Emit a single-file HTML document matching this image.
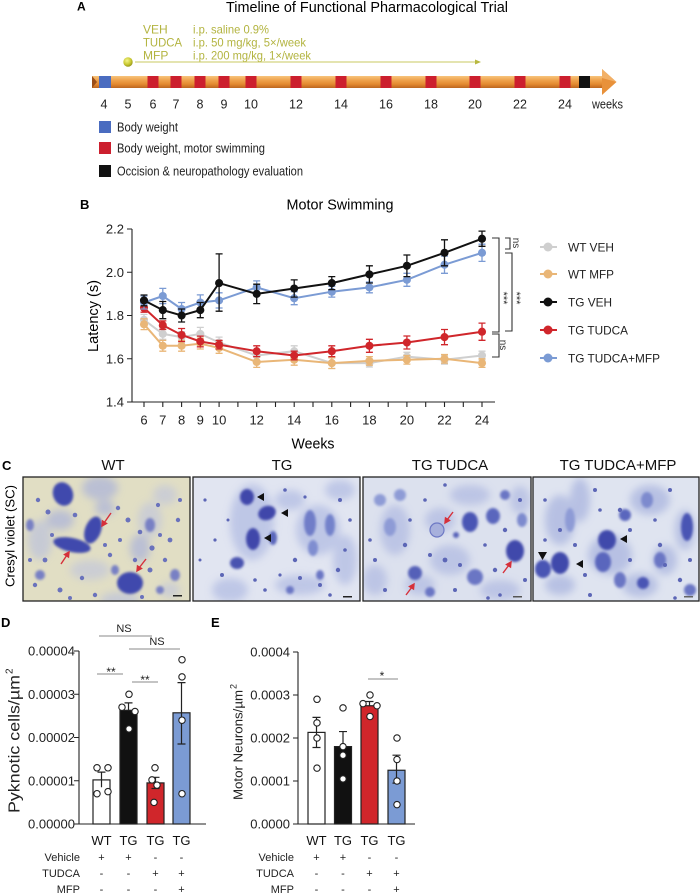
<!DOCTYPE html>
<html><head><meta charset="utf-8"><style>
html,body{margin:0;padding:0;background:#fff;}
svg{display:block;font-family:"Liberation Sans",Arial,sans-serif;}
</style></head><body>
<svg width="700" height="894" viewBox="0 0 700 894" xmlns="http://www.w3.org/2000/svg">
<defs>
<linearGradient id="bar" x1="0" y1="0" x2="0" y2="1">
<stop offset="0" stop-color="#f7c47c"/><stop offset="0.35" stop-color="#efa24c"/><stop offset="0.7" stop-color="#e2882f"/><stop offset="1" stop-color="#bb6520"/></linearGradient>
<radialGradient id="ball" cx="0.4" cy="0.35" r="0.7"><stop offset="0" stop-color="#f4f48a"/><stop offset="0.6" stop-color="#c8c830"/><stop offset="1" stop-color="#8e8e18"/></radialGradient>
<marker id="mg" viewBox="-5 -5 10 10" markerWidth="9" markerHeight="9" markerUnits="userSpaceOnUse"><circle r="4.5" fill="#cfcfcf"/></marker>
<marker id="mt" viewBox="-5 -5 10 10" markerWidth="9" markerHeight="9" markerUnits="userSpaceOnUse"><circle r="4.5" fill="#e9b677"/></marker>
<marker id="mk" viewBox="-5 -5 10 10" markerWidth="9" markerHeight="9" markerUnits="userSpaceOnUse"><circle r="4.5" fill="#111"/></marker>
<marker id="mr" viewBox="-5 -5 10 10" markerWidth="9" markerHeight="9" markerUnits="userSpaceOnUse"><circle r="4.5" fill="#d0262b"/></marker>
<marker id="mb" viewBox="-5 -5 10 10" markerWidth="9" markerHeight="9" markerUnits="userSpaceOnUse"><circle r="4.5" fill="#7b9bd4"/></marker>
<filter id="b1" x="-50%" y="-50%" width="200%" height="200%"><feGaussianBlur stdDeviation="1.2"/></filter>
<filter id="b3" x="-50%" y="-50%" width="200%" height="200%"><feGaussianBlur stdDeviation="4"/></filter>
<clipPath id="c1"><rect x="23" y="477" width="167" height="124"/></clipPath>
<clipPath id="c2"><rect x="193" y="477" width="167" height="124"/></clipPath>
<clipPath id="c3"><rect x="363" y="477" width="168" height="124"/></clipPath>
<clipPath id="c4"><rect x="533" y="477" width="166" height="124"/></clipPath>
</defs>

<!-- ============ PANEL A ============ -->
<text x="77" y="10.5" font-size="12" font-weight="bold">A</text>
<text x="226" y="12" font-size="14.5" textLength="282" lengthAdjust="spacingAndGlyphs">Timeline of Functional Pharmacological Trial</text>
<g fill="#b3b440" font-size="12">
<text x="143" y="33.3">VEH</text>
<text x="143" y="46.3" textLength="39" lengthAdjust="spacingAndGlyphs">TUDCA</text>
<text x="143" y="59.3">MFP</text>
<text x="193" y="33.3" textLength="76" lengthAdjust="spacingAndGlyphs">i.p. saline 0.9%</text>
<text x="193" y="46.3" textLength="113" lengthAdjust="spacingAndGlyphs">i.p. 50 mg/kg, 5×/week</text>
<text x="193" y="59.3" textLength="118" lengthAdjust="spacingAndGlyphs">i.p. 200 mg/kg, 1×/week</text>
</g>
<line x1="135" y1="62" x2="478" y2="62" stroke="#c8c860" stroke-width="1"/>
<path d="M475 59.5 L481 62 L475 64.5Z" fill="#b8b840"/>
<circle cx="128" cy="62" r="4.7" fill="url(#ball)"/>
<rect x="92" y="76" width="512" height="12" fill="url(#bar)"/>
<path d="M602 69 L616.5 82 L602 95Z" fill="#e8913a"/>
<path d="M602 69 L616.5 82 L602 78Z" fill="#f2b066"/>
<path d="M92 76 L97 82 L92 88Z" fill="#9a4e18"/>
<rect x="99" y="76" width="12" height="12" fill="#4a6cc0"/>
<g fill="#cc1f2e">
<rect x="147.5" y="76" width="11" height="12"/><rect x="170.5" y="76" width="11" height="12"/>
<rect x="194.5" y="76" width="11" height="12"/><rect x="218.5" y="76" width="11" height="12"/>
<rect x="245.5" y="76" width="11" height="12"/><rect x="290.5" y="76" width="11" height="12"/>
<rect x="335.5" y="76" width="11" height="12"/><rect x="380.5" y="76" width="11" height="12"/>
<rect x="425.5" y="76" width="11" height="12"/><rect x="469.5" y="76" width="11" height="12"/>
<rect x="514.5" y="76" width="11" height="12"/><rect x="559.5" y="76" width="11" height="12"/>
</g>
<rect x="579" y="76" width="11" height="12" fill="#111"/>
<g font-size="12.5" text-anchor="middle" fill="#222">
<text x="104" y="108.5">4</text><text x="128" y="108.5">5</text><text x="153" y="108.5">6</text>
<text x="176" y="108.5">7</text><text x="200" y="108.5">8</text><text x="224" y="108.5">9</text>
<text x="251" y="108.5">10</text><text x="296" y="108.5">12</text><text x="341" y="108.5">14</text>
<text x="386" y="108.5">16</text><text x="431" y="108.5">18</text><text x="475" y="108.5">20</text>
<text x="520" y="108.5">22</text><text x="565" y="108.5">24</text>
</g>
<text x="592" y="108.5" font-size="12.5" textLength="31" lengthAdjust="spacingAndGlyphs" fill="#222">weeks</text>
<rect x="99" y="121" width="12" height="12" fill="#4a6cc0"/>
<rect x="99" y="142" width="12" height="12" fill="#cc1f2e"/>
<rect x="99" y="165" width="12" height="12" fill="#111"/>
<g font-size="12.5" fill="#222">
<text x="117" y="131.5" textLength="61" lengthAdjust="spacingAndGlyphs">Body weight</text>
<text x="117" y="152.5" textLength="148" lengthAdjust="spacingAndGlyphs">Body weight, motor swimming</text>
<text x="117" y="175.5" textLength="186" lengthAdjust="spacingAndGlyphs">Occision &amp; neuropathology evaluation</text>
</g>

<!-- ============ PANEL B ============ -->
<text x="80" y="209" font-size="13" font-weight="bold">B</text>
<text x="340" y="209.5" font-size="14.5" text-anchor="middle" textLength="107" lengthAdjust="spacingAndGlyphs">Motor Swimming</text>
<g stroke="#222" stroke-width="1.1" fill="none">
<path d="M132 229V402H495"/>
<path d="M127 229H132M127 272.25H132M127 315.5H132M127 358.75H132M127 402H132"/>
<path d="M144 402v5M162.8 402v5M181.6 402v5M200.3 402v5M219.1 402v5M237.9 402v5M256.7 402v5M275.5 402v5M294.2 402v5M313 402v5M331.8 402v5M350.6 402v5M369.4 402v5M388.2 402v5M406.9 402v5M425.7 402v5M444.5 402v5M463.3 402v5M482 402v5"/>
</g>
<g font-size="13" text-anchor="end" fill="#222">
<text x="124" y="233.5">2.2</text><text x="124" y="276.75">2.0</text><text x="124" y="320">1.8</text>
<text x="124" y="363.25">1.6</text><text x="124" y="406.5">1.4</text>
</g>
<g font-size="13" text-anchor="middle" fill="#222">
<text x="144" y="424.5">6</text><text x="162.8" y="424.5">7</text><text x="181.6" y="424.5">8</text>
<text x="200.3" y="424.5">9</text><text x="219.1" y="424.5">10</text><text x="256.7" y="424.5">12</text>
<text x="294.2" y="424.5">14</text><text x="331.8" y="424.5">16</text><text x="369.4" y="424.5">18</text>
<text x="406.9" y="424.5">20</text><text x="444.5" y="424.5">22</text><text x="482" y="424.5">24</text>
</g>
<text x="313" y="448.5" font-size="14.5" text-anchor="middle" textLength="43" lengthAdjust="spacingAndGlyphs">Weeks</text>
<text transform="translate(98,316) rotate(-90)" font-size="14.5" text-anchor="middle" textLength="72" lengthAdjust="spacingAndGlyphs">Latency (s)</text>

<!-- WT VEH -->
<path fill="none" stroke="#cfcfcf" stroke-width="1.3" d="M144 314.4V325.2M140.5 314.4h7M140.5 325.2h7M162.8 328.5V339.3M159.3 328.5h7M159.3 339.3h7M181.6 331.7V342.5M178.1 331.7h7M178.1 342.5h7M200.3 327.4V340.4M196.8 327.4h7M196.8 340.4h7M219.1 337.1V347.9M215.6 337.1h7M215.6 347.9h7M256.7 350.1V360.9M253.2 350.1h7M253.2 360.9h7M294.2 345.8V356.6M290.7 345.8h7M290.7 356.6h7M331.8 357.7V368.5M328.3 357.7h7M328.3 368.5h7M369.4 359V367M365.9 359h7M365.9 367h7M406.9 352.3V360.9M403.4 352.3h7M403.4 360.9h7M444.5 355.5V364.1M441 355.5h7M441 364.1h7M482 351.2V359.8M478.5 351.2h7M478.5 359.8h7"/>
<polyline fill="none" stroke="#cfcfcf" stroke-width="2" marker-start="url(#mg)" marker-mid="url(#mg)" marker-end="url(#mg)" points="144,319.8 162.8,333.9 181.6,337.1 200.3,333.9 219.1,342.5 256.7,355.5 294.2,351.2 331.8,363.1 369.4,363.1 406.9,356.6 444.5,359.8 482,355.5"/>
<!-- WT MFP -->
<path fill="none" stroke="#e9b677" stroke-width="1.3" d="M144 318.8V329.6M140.5 318.8h7M140.5 329.6h7M162.8 340.4V351.2M159.3 340.4h7M159.3 351.2h7M181.6 340.4V351.2M178.1 340.4h7M178.1 351.2h7M200.3 338.2V349M196.8 338.2h7M196.8 349h7M219.1 342.5V353.3M215.6 342.5h7M215.6 353.3h7M256.7 356.6V367.4M253.2 356.6h7M253.2 367.4h7M294.2 354.4V365.2M290.7 354.4h7M290.7 365.2h7M331.8 357.7V368.5M328.3 357.7h7M328.3 368.5h7M369.4 356.6V365.2M365.9 356.6h7M365.9 365.2h7M406.9 355.5V364.1M403.4 355.5h7M403.4 364.1h7M444.5 354.5V363.1M441 354.5h7M441 363.1h7M482 358.8V367.4M478.5 358.8h7M478.5 367.4h7"/>
<polyline fill="none" stroke="#e9b677" stroke-width="2" marker-start="url(#mt)" marker-mid="url(#mt)" marker-end="url(#mt)" points="144,324.2 162.8,345.8 181.6,345.8 200.3,343.6 219.1,347.9 256.7,362 294.2,359.8 331.8,363.1 369.4,360.9 406.9,359.8 444.5,358.8 482,363.1"/>
<!-- TG TUDCA -->
<path fill="none" stroke="#d0262b" stroke-width="1.3" d="M144 303.6V312.2M140.5 303.6h7M140.5 312.2h7M162.8 320.9V329.5M159.3 320.9h7M159.3 329.5h7M181.6 328.5V341.5M178.1 328.5h7M178.1 341.5h7M200.3 336.1V346.9M196.8 336.1h7M196.8 346.9h7M219.1 340.4V349M215.6 340.4h7M215.6 349h7M256.7 345.8V356.6M253.2 345.8h7M253.2 356.6h7M294.2 351.2V359.8M290.7 351.2h7M290.7 359.8h7M331.8 345.8V356.6M328.3 345.8h7M328.3 356.6h7M369.4 339.3V352.3M365.9 339.3h7M365.9 352.3h7M406.9 336V349M403.4 336h7M403.4 349h7M444.5 329.5V344.7M441 329.5h7M441 344.7h7M482 323.1V340.3M478.5 323.1h7M478.5 340.3h7"/>
<polyline fill="none" stroke="#d0262b" stroke-width="2" marker-start="url(#mr)" marker-mid="url(#mr)" marker-end="url(#mr)" points="144,307.9 162.8,325.2 181.6,335 200.3,341.5 219.1,344.7 256.7,351.2 294.2,355.5 331.8,351.2 369.4,345.8 406.9,342.5 444.5,337.1 482,331.7"/>
<!-- TG TUDCA+MFP -->
<path fill="none" stroke="#7b9bd4" stroke-width="1.3" d="M144 296V309M140.5 296h7M140.5 309h7M162.8 288.4V303.6M159.3 288.4h7M159.3 303.6h7M181.6 302.5V315.5M178.1 302.5h7M178.1 315.5h7M200.3 294.9V310.1M196.8 294.9h7M196.8 310.1h7M219.1 292.8V308M215.6 292.8h7M215.6 308h7M256.7 280.9V293.9M253.2 280.9h7M253.2 293.9h7M294.2 291.7V304.7M290.7 291.7h7M290.7 304.7h7M331.8 286.3V297.1M328.3 286.3h7M328.3 297.1h7M369.4 282V292.8M365.9 282h7M365.9 292.8h7M406.9 273.3V286.3M403.4 273.3h7M403.4 286.3h7M444.5 256.1V273.3M441 256.1h7M441 273.3h7M482 244.2V261.4M478.5 244.2h7M478.5 261.4h7"/>
<polyline fill="none" stroke="#7b9bd4" stroke-width="2" marker-start="url(#mb)" marker-mid="url(#mb)" marker-end="url(#mb)" points="144,302.5 162.8,296 181.6,309 200.3,302.5 219.1,300.4 256.7,287.4 294.2,298.2 331.8,291.7 369.4,287.4 406.9,279.8 444.5,264.7 482,252.8"/>
<!-- TG VEH -->
<path fill="none" stroke="#111" stroke-width="1.3" d="M144 295V305.8M140.5 295h7M140.5 305.8h7M162.8 301.5V318.7M159.3 301.5h7M159.3 318.7h7M181.6 309V322M178.1 309h7M178.1 322h7M200.3 302.5V317.7M196.8 302.5h7M196.8 317.7h7M219.1 253.9V311.2M215.6 253.9h7M215.6 311.2h7M256.7 284.2V303.6M253.2 284.2h7M253.2 303.6h7M294.2 279.9V297.1M290.7 279.9h7M290.7 297.1h7M331.8 276.6V289.6M328.3 276.6h7M328.3 289.6h7M369.4 265.8V283M365.9 265.8h7M365.9 283h7M406.9 255V276.6M403.4 255h7M403.4 276.6h7M444.5 239.8V265.8M441 239.8h7M441 265.8h7M482 231.1V246.3M478.5 231.1h7M478.5 246.3h7"/>
<polyline fill="none" stroke="#111" stroke-width="2" marker-start="url(#mk)" marker-mid="url(#mk)" marker-end="url(#mk)" points="144,300.4 162.8,310.1 181.6,315.5 200.3,310.1 219.1,283.1 256.7,293.9 294.2,288.5 331.8,283.1 369.4,274.4 406.9,265.8 444.5,252.8 482,238.7"/>

<!-- brackets -->
<g stroke="#333" stroke-width="1.1" fill="none">
<path d="M505 238H510V249H505"/>
<path d="M492 238H499V332H492"/>
<path d="M505 253H512V331H505"/>
<path d="M492 334H499V357H492"/>
</g>
<g font-size="10" fill="#333">
<text transform="translate(513,243) rotate(90)" text-anchor="middle">ns</text>
<text transform="translate(500,298) rotate(90)" text-anchor="middle" font-size="11">***</text>
<text transform="translate(513,298) rotate(90)" text-anchor="middle" font-size="11">***</text>
<text transform="translate(500,345) rotate(90)" text-anchor="middle">ns</text>
</g>

<!-- legend B -->
<g stroke-width="2">
<line x1="540" y1="247" x2="557" y2="247" stroke="#cfcfcf"/><circle cx="548" cy="247" r="4.5" fill="#cfcfcf"/>
<line x1="540" y1="274" x2="557" y2="274" stroke="#e9b677"/><circle cx="548" cy="274" r="4.5" fill="#e9b677"/>
<line x1="540" y1="302" x2="557" y2="302" stroke="#111"/><circle cx="548" cy="302" r="4.5" fill="#111"/>
<line x1="540" y1="330" x2="557" y2="330" stroke="#d0262b"/><circle cx="548" cy="330" r="4.5" fill="#d0262b"/>
<line x1="540" y1="358" x2="557" y2="358" stroke="#7b9bd4"/><circle cx="548" cy="358" r="4.5" fill="#7b9bd4"/>
</g>
<g font-size="12" fill="#222">
<text x="568" y="251.3" textLength="46" lengthAdjust="spacingAndGlyphs">WT VEH</text>
<text x="568" y="278.3" textLength="46" lengthAdjust="spacingAndGlyphs">WT MFP</text>
<text x="568" y="306.3" textLength="44" lengthAdjust="spacingAndGlyphs">TG VEH</text>
<text x="568" y="334.3" textLength="60" lengthAdjust="spacingAndGlyphs">TG TUDCA</text>
<text x="568" y="362.3" textLength="92" lengthAdjust="spacingAndGlyphs">TG TUDCA+MFP</text>
</g>

<!-- ============ PANEL C ============ -->
<text x="2" y="470" font-size="13" font-weight="bold">C</text>
<g font-size="15" text-anchor="middle" fill="#111">
<text x="113" y="470">WT</text><text x="282" y="470">TG</text>
<text x="450" y="470">TG TUDCA</text><text x="618" y="470">TG TUDCA+MFP</text>
</g>
<text transform="translate(14.5,536) rotate(-90)" font-size="13" text-anchor="middle" textLength="102" lengthAdjust="spacingAndGlyphs">Cresyl violet (SC)</text>

<!-- photo 1 -->
<g clip-path="url(#c1)">
<rect x="23" y="477" width="167" height="124" fill="#e1dec4"/>
<g filter="url(#b3)" fill="#aab2da" opacity="0.7">
<ellipse cx="100" cy="488" rx="18" ry="12"/><ellipse cx="60" cy="520" rx="14" ry="10"/>
<ellipse cx="150" cy="520" rx="12" ry="18" fill="#c3c7da"/><ellipse cx="90" cy="570" rx="20" ry="10" fill="#c3c7da"/>
<ellipse cx="170" cy="590" rx="10" ry="8" fill="#c3c7da"/>
<ellipse cx="40" cy="540" rx="12" ry="20" fill="#bcc2dc"/><ellipse cx="120" cy="600" rx="20" ry="8" fill="#bcc2dc"/>
<ellipse cx="165" cy="495" rx="12" ry="10" fill="#c3c7da"/><ellipse cx="140" cy="548" rx="10" ry="14"/>
<ellipse cx="105" cy="508" rx="10" ry="8"/>
</g>
<g filter="url(#b1)" fill="#4148ad">
<ellipse cx="63" cy="494" rx="10" ry="12" transform="rotate(-20 63 494)"/>
<ellipse cx="93" cy="530" rx="8" ry="14" transform="rotate(20 93 530)"/>
<ellipse cx="72" cy="545" rx="19" ry="7" transform="rotate(12 72 545)"/>
<ellipse cx="130" cy="583" rx="13" ry="11"/>
</g>
<g filter="url(#b1)" fill="#7880c4">
<ellipse cx="150" cy="525" rx="5" ry="7"/><ellipse cx="175" cy="575" rx="5" ry="6"/>
<ellipse cx="40" cy="575" rx="5" ry="5"/><ellipse cx="115" cy="570" rx="4" ry="5"/>
<ellipse cx="160" cy="590" rx="4" ry="4"/><ellipse cx="30" cy="525" rx="4" ry="6"/>
</g>
<g fill="#6a72bc">
<circle cx="38" cy="500" r="2.2"/><circle cx="48" cy="512" r="2.5"/><circle cx="75" cy="515" r="2.3"/>
<circle cx="118" cy="508" r="2.2"/><circle cx="128" cy="520" r="2.5"/><circle cx="140" cy="532" r="2.3"/>
<circle cx="158" cy="505" r="2.1"/><circle cx="170" cy="540" r="2.4"/><circle cx="152" cy="548" r="2.6"/>
<circle cx="110" cy="555" r="2.2"/><circle cx="45" cy="560" r="2.4"/><circle cx="35" cy="585" r="2.2"/>
<circle cx="60" cy="590" r="2.5"/><circle cx="95" cy="595" r="2.2"/><circle cx="150" cy="570" r="2.5"/>
<circle cx="165" cy="560" r="2.2"/><circle cx="120" cy="540" r="2"/><circle cx="178" cy="520" r="2.2"/>
<circle cx="142" cy="597" r="2"/><circle cx="82" cy="578" r="2.2"/><circle cx="52" cy="535" r="2"/>
<circle cx="105" cy="545" r="2"/><circle cx="135" cy="560" r="2.2"/><circle cx="180" cy="500" r="2"/>
<circle cx="70" cy="598" r="2"/><circle cx="30" cy="560" r="2"/><circle cx="160" cy="535" r="2"/>
</g>
<g stroke="#d6303a" stroke-width="1.4" fill="#d6303a">
<path d="M111 513L104 523" fill="none"/><path d="M102 526l0.5-5 4 2.5z"/>
<path d="M61 564L67 555" fill="none"/><path d="M69 552l-0.5 5-4-2.5z"/>
<path d="M146 559L139 568" fill="none"/><path d="M137 571l0.5-5 4 2.5z"/>
</g>
<rect x="173" y="595" width="9" height="1.5" fill="#222"/>
</g>
<rect x="23" y="477" width="167" height="124" fill="none" stroke="#222" stroke-width="1.3"/>

<!-- photo 2 -->
<g clip-path="url(#c2)">
<rect x="193" y="477" width="167" height="124" fill="#e1e5f1"/>
<g filter="url(#b3)" fill="#b3bde3" opacity="0.75">
<ellipse cx="252" cy="522" rx="22" ry="38"/><ellipse cx="318" cy="530" rx="22" ry="25"/>
<ellipse cx="340" cy="490" rx="15" ry="10"/><ellipse cx="300" cy="585" rx="25" ry="10"/>
<ellipse cx="230" cy="590" rx="18" ry="12"/><ellipse cx="345" cy="560" rx="12" ry="25"/>
<ellipse cx="290" cy="500" rx="15" ry="10"/>
</g>
<g filter="url(#b1)">
<ellipse cx="247" cy="497" rx="7" ry="8" fill="#3f46aa"/>
<ellipse cx="267" cy="513" rx="9" ry="7" transform="rotate(-20 267 513)" fill="#3f46aa"/>
<ellipse cx="253" cy="539" rx="7" ry="11" fill="#3f46aa"/>
<ellipse cx="237" cy="563" rx="7" ry="6" fill="#4a52b0"/>
<ellipse cx="310" cy="523" rx="6" ry="13" fill="#6f7dc8"/>
<ellipse cx="330" cy="525" rx="5" ry="11" fill="#7382cb"/>
<ellipse cx="313" cy="548" rx="5" ry="8" fill="#7f8dd0"/>
<ellipse cx="273" cy="538" rx="4" ry="7" fill="#5a66bb"/>
<ellipse cx="290" cy="590" rx="4" ry="4" fill="#6a76c4"/>
<ellipse cx="320" cy="575" rx="4" ry="5" fill="#6a76c4"/>
</g>
<g fill="#5c66b6">
<circle cx="205" cy="500" r="1.6"/><circle cx="215" cy="540" r="1.6"/><circle cx="222" cy="575" r="2"/>
<circle cx="285" cy="490" r="1.8"/><circle cx="295" cy="560" r="2.2"/><circle cx="300" cy="578" r="2"/>
<circle cx="320" cy="585" r="2"/><circle cx="338" cy="570" r="2.2"/><circle cx="345" cy="550" r="1.8"/>
<circle cx="265" cy="590" r="1.8"/><circle cx="280" cy="575" r="1.6"/><circle cx="340" cy="500" r="2"/>
<circle cx="305" cy="497" r="1.6"/><circle cx="228" cy="520" r="1.5"/><circle cx="255" cy="580" r="1.8"/>
<circle cx="330" cy="595" r="1.8"/><circle cx="350" cy="520" r="1.8"/><circle cx="200" cy="560" r="1.5"/>
</g>
<g fill="#111">
<path d="M257 497l7-4v8z"/><path d="M281 513l7-4v8z"/><path d="M264 538l7-4v8z"/>
</g>
<rect x="343" y="596" width="9" height="1.5" fill="#222"/>
</g>
<rect x="193" y="477" width="167" height="124" fill="none" stroke="#222" stroke-width="1.3"/>

<!-- photo 3 -->
<g clip-path="url(#c3)">
<rect x="363" y="477" width="168" height="124" fill="#dce1ee"/>
<g filter="url(#b3)" fill="#b2bce2" opacity="0.75">
<ellipse cx="395" cy="530" rx="15" ry="25"/><ellipse cx="440" cy="520" rx="15" ry="12"/>
<ellipse cx="470" cy="495" rx="20" ry="10"/><ellipse cx="500" cy="590" rx="20" ry="10"/>
<ellipse cx="420" cy="585" rx="15" ry="10"/><ellipse cx="450" cy="560" rx="20" ry="15"/>
<ellipse cx="375" cy="580" rx="12" ry="15"/><ellipse cx="520" cy="500" rx="10" ry="14"/>
</g>
<g filter="url(#b1)">
<ellipse cx="470" cy="522" rx="8" ry="10" fill="#4a54b4"/>
<ellipse cx="493" cy="516" rx="7" ry="8" fill="#5a66bd"/>
<ellipse cx="515" cy="551" rx="9" ry="11" fill="#3f48ab"/>
<ellipse cx="415" cy="573" rx="7" ry="7" fill="#5560b8"/>
<ellipse cx="475" cy="577" rx="8" ry="8" fill="#6a76c4"/>
<ellipse cx="390" cy="527" rx="6" ry="9" fill="#8e9bd6"/>
<ellipse cx="400" cy="495" rx="6" ry="6" fill="#8e9bd6"/>
<ellipse cx="456" cy="535" rx="3" ry="3" fill="#5560b8"/>
<ellipse cx="380" cy="500" rx="6" ry="6" fill="#8e9bd6"/>
<ellipse cx="505" cy="495" rx="5" ry="5" fill="#6a76c4"/>
<ellipse cx="430" cy="592" rx="5" ry="5" fill="#6a76c4"/>
<ellipse cx="522" cy="520" rx="5" ry="7" fill="#7d8ace"/>
</g>
<circle cx="437" cy="530" r="7" fill="#a7b0dc" stroke="#6d78c4" stroke-width="1.2"/>
<g fill="#5c66b6">
<circle cx="375" cy="560" r="2"/><circle cx="385" cy="590" r="2"/><circle cx="405" cy="545" r="2.2"/>
<circle cx="425" cy="500" r="1.8"/><circle cx="445" cy="560" r="2.4"/><circle cx="455" cy="590" r="2"/>
<circle cx="460" cy="565" r="2"/><circle cx="495" cy="570" r="2.2"/><circle cx="505" cy="530" r="2.2"/>
<circle cx="520" cy="500" r="2"/><circle cx="500" cy="595" r="1.8"/><circle cx="430" cy="555" r="2"/>
<circle cx="410" cy="520" r="1.8"/><circle cx="485" cy="545" r="1.8"/><circle cx="525" cy="580" r="2"/>
<circle cx="370" cy="540" r="1.8"/><circle cx="488" cy="598" r="1.8"/><circle cx="445" cy="485" r="1.8"/>
</g>
<g stroke="#d6303a" stroke-width="1.4" fill="#d6303a">
<path d="M453 512L447 520" fill="none"/><path d="M445 523l0.5-5 4 2.5z"/>
<path d="M503 573L509 565" fill="none"/><path d="M511 562l-0.5 5-4-2.5z"/>
<path d="M406 595L412 587" fill="none"/><path d="M414 584l-0.5 5-4-2.5z"/>
</g>
<rect x="513" y="596" width="9" height="1.5" fill="#555"/>
</g>
<rect x="363" y="477" width="168" height="124" fill="none" stroke="#222" stroke-width="1.3"/>

<!-- photo 4 -->
<g clip-path="url(#c4)">
<rect x="533" y="477" width="166" height="124" fill="#dfe4f0"/>
<g filter="url(#b3)" fill="#aab5df" opacity="0.75">
<ellipse cx="580" cy="500" rx="10" ry="22"/><ellipse cx="650" cy="500" rx="20" ry="15"/>
<ellipse cx="610" cy="555" rx="22" ry="20"/><ellipse cx="685" cy="530" rx="10" ry="20"/>
<ellipse cx="640" cy="585" rx="18" ry="12"/><ellipse cx="560" cy="585" rx="15" ry="10"/>
<ellipse cx="560" cy="520" rx="15" ry="25"/><ellipse cx="665" cy="560" rx="12" ry="15"/>
</g>
<g filter="url(#b1)">
<ellipse cx="607" cy="540" rx="9" ry="10" fill="#3f48ab"/>
<ellipse cx="560" cy="563" rx="9" ry="11" fill="#3f48ab"/>
<ellipse cx="543" cy="569" rx="8" ry="9" fill="#4a54b4"/>
<ellipse cx="603" cy="562" rx="8" ry="10" fill="#5a66bd"/>
<ellipse cx="687" cy="527" rx="6" ry="14" fill="#4a54b4"/>
<ellipse cx="643" cy="583" rx="6" ry="6" fill="#4a54b4"/>
<ellipse cx="620" cy="580" rx="6" ry="8" fill="#6a76c4"/>
<ellipse cx="647" cy="500" rx="6" ry="8" fill="#7d8ace"/>
<ellipse cx="570" cy="520" rx="5" ry="12" fill="#8e9bd6"/>
<ellipse cx="660" cy="560" rx="6" ry="8" fill="#6a76c4"/>
<ellipse cx="625" cy="515" rx="6" ry="6" fill="#5a66bd"/>
<ellipse cx="690" cy="590" rx="6" ry="6" fill="#6a76c4"/>
</g>
<g fill="#5c66b6">
<circle cx="545" cy="500" r="1.8"/><circle cx="560" cy="530" r="2"/><circle cx="575" cy="545" r="2"/>
<circle cx="595" cy="490" r="2"/><circle cx="620" cy="510" r="2.2"/><circle cx="630" cy="530" r="2"/>
<circle cx="660" cy="545" r="2.2"/><circle cx="665" cy="565" r="2"/><circle cx="680" cy="580" r="2.2"/>
<circle cx="590" cy="595" r="2"/><circle cx="630" cy="560" r="2"/><circle cx="670" cy="490" r="2"/>
<circle cx="655" cy="520" r="1.8"/><circle cx="545" cy="540" r="1.8"/><circle cx="690" cy="560" r="2"/>
<circle cx="600" cy="510" r="1.8"/><circle cx="675" cy="598" r="1.8"/><circle cx="585" cy="575" r="2"/>
</g>
<g fill="#111">
<path d="M538 552h9l-4.5 8z"/><path d="M576 564l7-4v8z"/><path d="M620 539l7-4v8z"/>
</g>
<rect x="684" y="596" width="9" height="1.5" fill="#666"/>
</g>
<rect x="533" y="477" width="166" height="124" fill="none" stroke="#222" stroke-width="1.3"/>

<!-- ============ PANEL D ============ -->
<text x="1" y="627" font-size="13" font-weight="bold">D</text>
<g stroke="#222" stroke-width="1.1" fill="none">
<path d="M79 651V824H206"/>
<path d="M74 651H79M74 694.25H79M74 737.5H79M74 780.75H79M74 824H79"/>
</g>
<g font-size="13" text-anchor="end" fill="#222">
<text x="75" y="655.5">0.00004</text><text x="75" y="698.75">0.00003</text>
<text x="75" y="742">0.00002</text><text x="75" y="785.25">0.00001</text><text x="75" y="828.5">0.00000</text>
</g>
<g transform="translate(19.5,813) rotate(-90)" fill="#222">
<text x="0" y="0" font-size="16" textLength="138" lengthAdjust="spacingAndGlyphs">Pyknotic cells/µm</text>
<text x="139" y="-7" font-size="10">2</text>
</g>
<g stroke="#222" stroke-width="1.2">
<rect x="93" y="779.9" width="17" height="44.1" fill="#fff"/>
<rect x="120" y="710.3" width="17" height="113.7" fill="#111"/>
<rect x="147" y="782.9" width="17" height="41.1" fill="#d0262b"/>
<rect x="173" y="712.8" width="17" height="111.2" fill="#7b9bd4"/>
</g>
<path fill="none" stroke="#222" stroke-width="1.2" d="M101.5 772.1V787.2M97.5 772.1h8M128.5 702.9V710.3M124.5 702.9h8M155.5 777.3V788.5M151.5 777.3h8M151.5 788.5h8M181.5 682.6V744M177.5 682.6h8M177.5 744h8"/>
<g fill="#fff" stroke="#222" stroke-width="1.1">
<circle cx="97" cy="767.8" r="3.2"/><circle cx="108" cy="767.8" r="3.2"/><circle cx="97" cy="793.7" r="3.2"/><circle cx="108" cy="791.6" r="3.2"/>
<circle cx="129" cy="694.3" r="3.2"/><circle cx="122" cy="707.2" r="3.2"/><circle cx="135" cy="711.5" r="3.2"/><circle cx="129" cy="728.9" r="3.2"/>
<circle cx="155" cy="767.8" r="3.2"/><circle cx="152" cy="779.9" r="3.2"/><circle cx="157" cy="785.1" r="3.2"/><circle cx="154" cy="802.4" r="3.2"/>
<circle cx="182" cy="659.7" r="3.2"/><circle cx="182" cy="676.9" r="3.2"/><circle cx="182" cy="720.2" r="3.2"/><circle cx="182" cy="793.7" r="3.2"/>
</g>
<g stroke="#8a8a8a" stroke-width="1">
<line x1="99" y1="636" x2="152" y2="636"/><line x1="129" y1="649" x2="180" y2="649"/>
<line x1="97" y1="674" x2="123" y2="674"/><line x1="132" y1="682" x2="158" y2="682"/>
</g>
<g font-size="11" text-anchor="middle" fill="#222">
<text x="124" y="632">NS</text><text x="157" y="645">NS</text>
<text x="111" y="676" font-size="12">**</text><text x="145" y="684" font-size="12">**</text>
</g>
<g font-size="13" text-anchor="middle" fill="#111">
<text x="101.5" y="845">WT</text><text x="128.5" y="845">TG</text><text x="155.5" y="845">TG</text><text x="181.5" y="845">TG</text>
</g>
<g font-size="11" fill="#222">
<text x="80" y="861" text-anchor="end">Vehicle</text>
<text x="80" y="877" text-anchor="end">TUDCA</text>
<text x="80" y="893" text-anchor="end">MFP</text>
<g text-anchor="middle">
<text x="101.5" y="861">+</text><text x="128.5" y="861">+</text><text x="155.5" y="861">-</text><text x="181.5" y="861">-</text>
<text x="101.5" y="877">-</text><text x="128.5" y="877">-</text><text x="155.5" y="877">+</text><text x="181.5" y="877">+</text>
<text x="101.5" y="893">-</text><text x="128.5" y="893">-</text><text x="155.5" y="893">-</text><text x="181.5" y="893">+</text>
</g>
</g>

<!-- ============ PANEL E ============ -->
<text x="211" y="627" font-size="13" font-weight="bold">E</text>
<g stroke="#222" stroke-width="1.1" fill="none">
<path d="M298 652V824H415"/>
<path d="M293 652H298M293 695H298M293 738H298M293 781H298M293 824H298"/>
</g>
<g font-size="13" text-anchor="end" fill="#222">
<text x="290" y="656.5">0.0004</text><text x="290" y="699.5">0.0003</text>
<text x="290" y="742.5">0.0002</text><text x="290" y="785.5">0.0001</text><text x="290" y="828.5">0.0000</text>
</g>
<g transform="translate(242.5,800) rotate(-90)" fill="#222">
<text x="0" y="0" font-size="13" textLength="110" lengthAdjust="spacingAndGlyphs">Motor Neurons/µm</text>
<text x="111" y="-6" font-size="9">2</text>
</g>
<g stroke="#222" stroke-width="1.2">
<rect x="308" y="732.4" width="17" height="91.6" fill="#fff"/>
<rect x="334.5" y="746.6" width="17" height="77.4" fill="#111"/>
<rect x="361" y="705.75" width="17" height="118.25" fill="#d0262b"/>
<rect x="388" y="770.25" width="17" height="53.75" fill="#7b9bd4"/>
</g>
<path fill="none" stroke="#222" stroke-width="1.2" d="M316.5 717.4V747.5M312.5 717.4h8M312.5 747.5h8M343 731.55V746.6M339 731.55h8M369.5 701.5V705.75M365.5 701.5h8M396.5 755.2V783.15M392.5 755.2h8M392.5 783.15h8"/>
<g fill="#fff" stroke="#222" stroke-width="1.1">
<circle cx="317" cy="699.3" r="3.2"/><circle cx="317" cy="722.9" r="3.2"/><circle cx="317" cy="738" r="3.2"/><circle cx="317" cy="768.1" r="3.2"/>
<circle cx="343" cy="707.9" r="3.2"/><circle cx="343" cy="746.6" r="3.2"/><circle cx="343" cy="755.2" r="3.2"/><circle cx="343" cy="778.9" r="3.2"/>
<circle cx="370" cy="695" r="3.2"/><circle cx="363" cy="703.6" r="3.2"/><circle cx="377" cy="705.75" r="3.2"/><circle cx="370" cy="716.5" r="3.2"/>
<circle cx="397" cy="738" r="3.2"/><circle cx="397" cy="759.5" r="3.2"/><circle cx="397" cy="781" r="3.2"/><circle cx="397" cy="804.65" r="3.2"/>
</g>
<line x1="368" y1="679" x2="398" y2="679" stroke="#8a8a8a" stroke-width="1"/>
<text x="382" y="680" font-size="12" text-anchor="middle" fill="#222">*</text>
<g font-size="13" text-anchor="middle" fill="#111">
<text x="316.5" y="845">WT</text><text x="343" y="845">TG</text><text x="369.5" y="845">TG</text><text x="396.5" y="845">TG</text>
</g>
<g font-size="11" fill="#222">
<text x="294" y="861" text-anchor="end">Vehicle</text>
<text x="294" y="877" text-anchor="end">TUDCA</text>
<text x="294" y="893" text-anchor="end">MFP</text>
<g text-anchor="middle">
<text x="316.5" y="861">+</text><text x="343" y="861">+</text><text x="369.5" y="861">-</text><text x="396.5" y="861">-</text>
<text x="316.5" y="877">-</text><text x="343" y="877">-</text><text x="369.5" y="877">+</text><text x="396.5" y="877">+</text>
<text x="316.5" y="893">-</text><text x="343" y="893">-</text><text x="369.5" y="893">-</text><text x="396.5" y="893">+</text>
</g>
</g>
</svg>
</body></html>
